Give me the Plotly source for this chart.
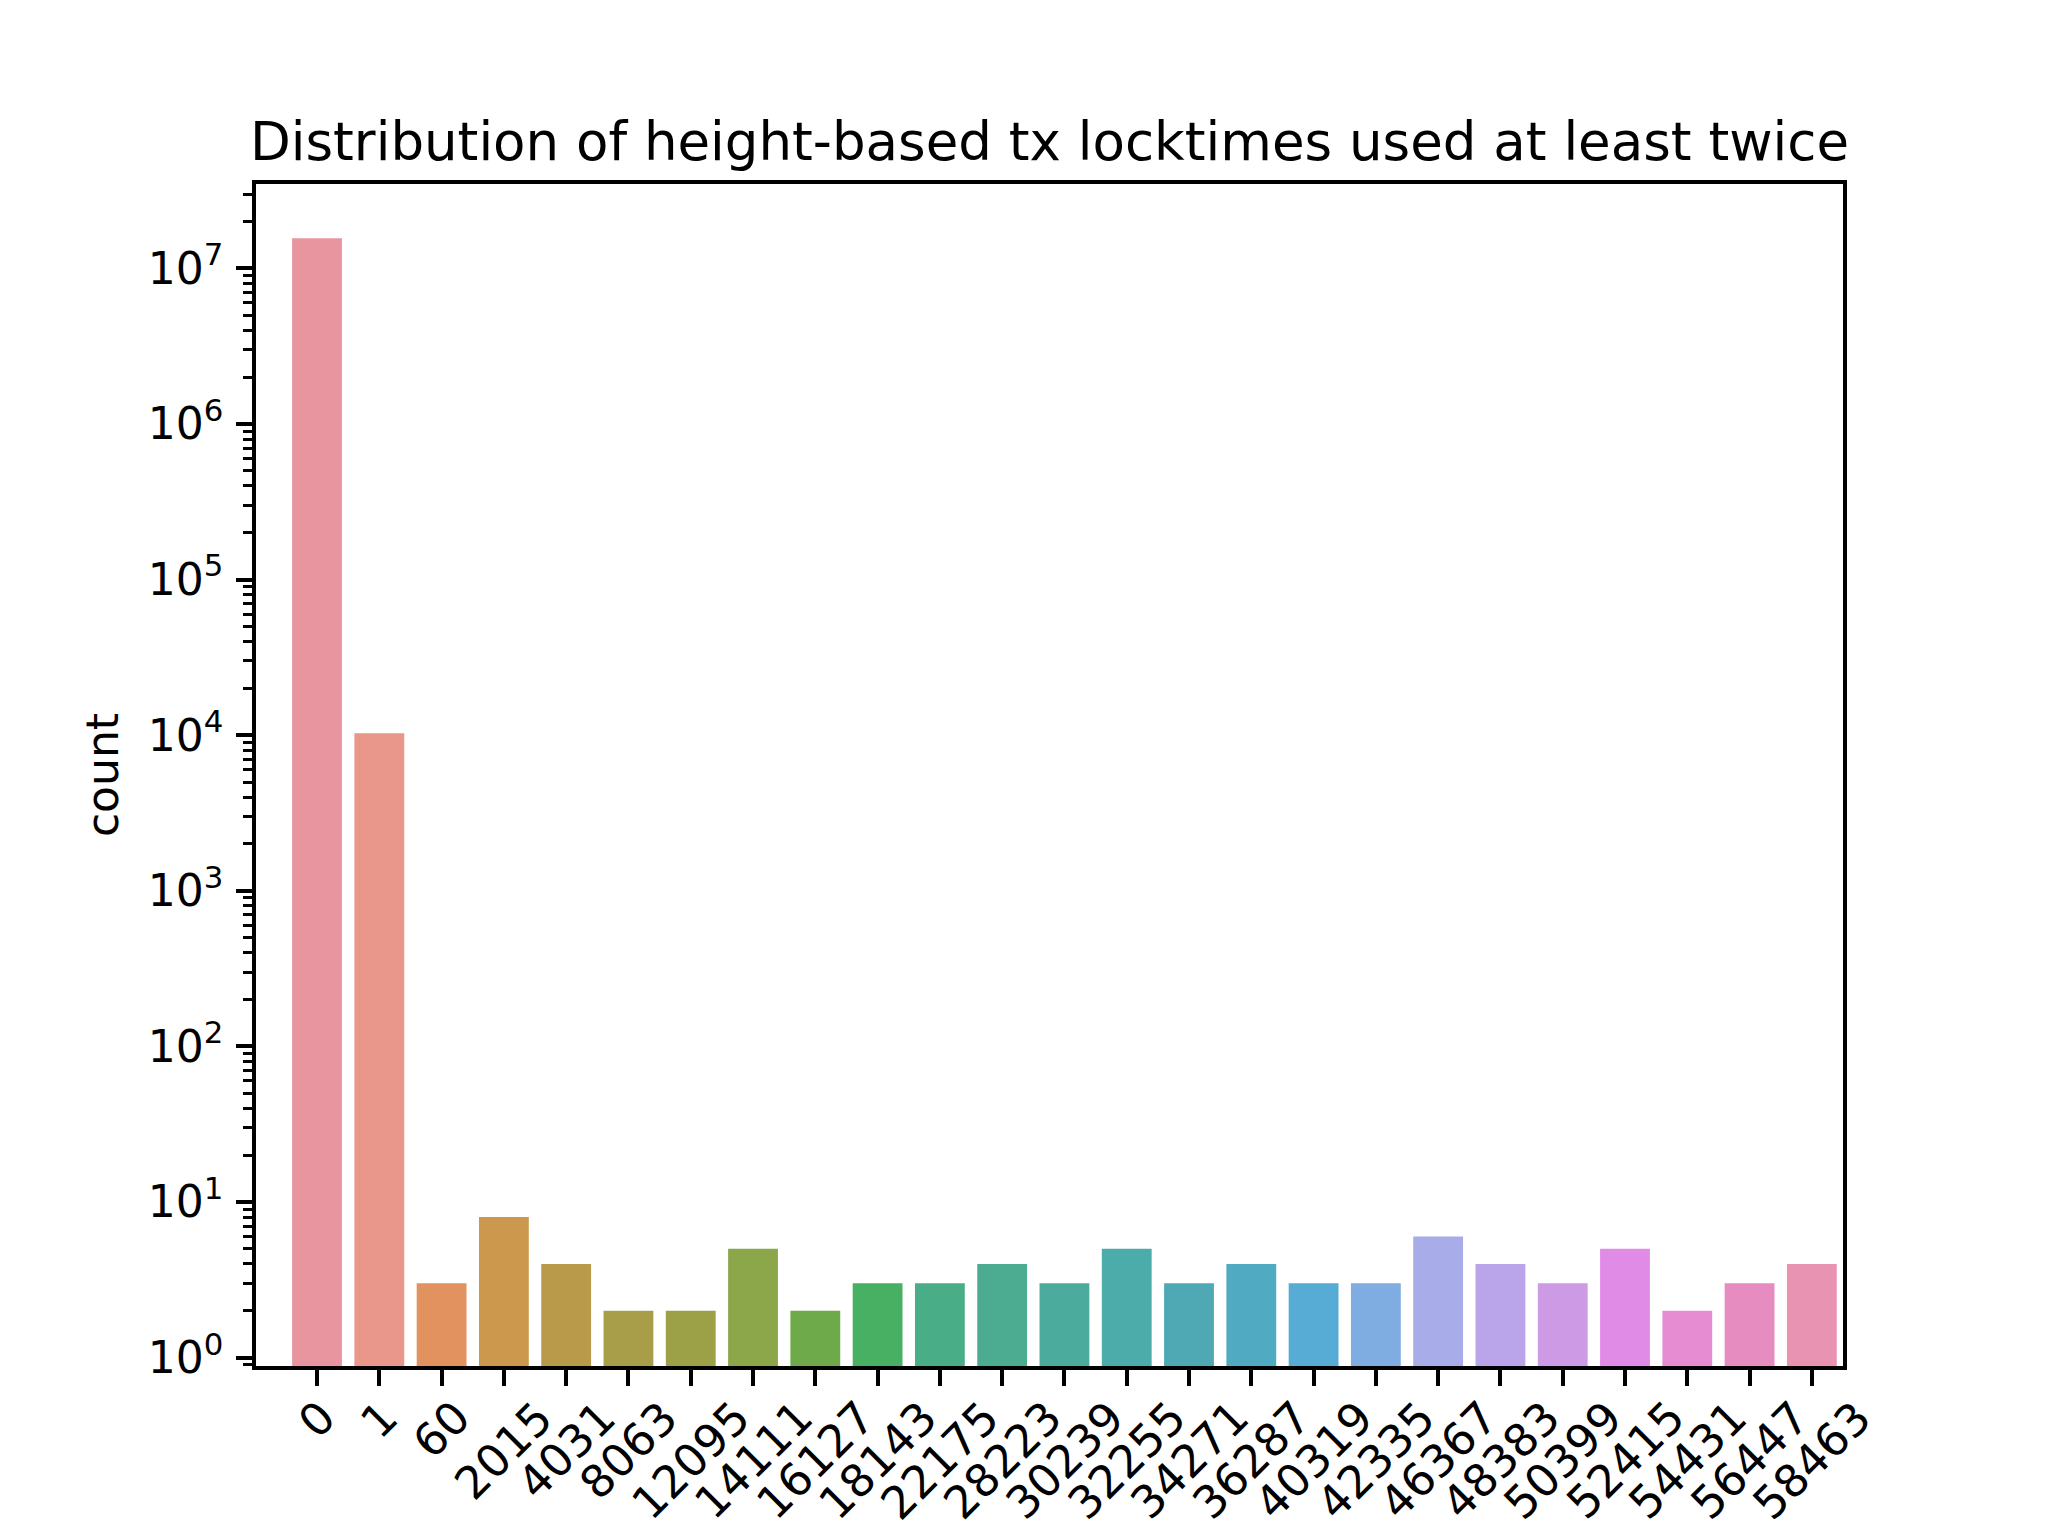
import plotly.graph_objects as go

# ---- data ----
categories = ["0", "1", "60", "2015", "4031", "8063", "12095", "14111", "16127",
              "18143", "22175", "28223", "30239", "32255", "34271", "36287",
              "40319", "42335", "46367", "48383", "50399", "52415", "54431",
              "56447", "58463"]
counts = [15600000, 10300, 3, 8, 4, 2, 2, 5, 2,
          3, 3, 4, 3, 5, 3, 4,
          3, 3, 6, 4, 3, 5, 2,
          3, 4]
bar_colors = ["#E8959F", "#E8978A", "#E1925F", "#CB984D", "#B89A4A", "#A89E49",
              "#9CA148", "#8CA74A", "#6EAA4A", "#48B062", "#49AE87", "#4BAC92",
              "#4BAC9E", "#4CACA9", "#4EA9B4", "#50ABC2", "#56ACD4", "#7FADE2",
              "#A8ADEA", "#BAA4EA", "#CD9BE6", "#E08BE6", "#E68CD2", "#E68CC0",
              "#E893B2"]
y_decades = list(range(0, 8))
y_ticktext = ["10<sup>%d</sup>" % d for d in y_decades]
title_text = "Distribution of height-based tx locktimes used at least twice"
y_label = "count"

FONT = "DejaVu Sans"
OFF = 8  # page body margin in the browser
W, H = 2048 - OFF, 1536 - OFF
L, R, T, B = 256 - OFF, 205, 184 - OFF, 170

fig = go.Figure()
fig.add_trace(go.Bar(
    x=list(range(len(categories))),
    y=counts,
    width=0.8,
    marker=dict(color=bar_colors, line=dict(width=0)),
    showlegend=False,
))

minor_vals = [k * 10 ** d for d in range(-1, 8) for k in range(2, 10)]

fig.update_layout(
    width=W, height=H,
    margin=dict(l=L, r=R, t=T, b=B, pad=0),
    paper_bgcolor="white", plot_bgcolor="white",
    font=dict(family=FONT, size=44, color="black"),
    title=dict(text=title_text, x=(L + (W - L - R) / 2) / W, xanchor="center",
               xref="container", y=1 - (141 - OFF) / H, yanchor="middle",
               font=dict(family=FONT, size=53, color="black")),
    bargap=0.2,
)

fig.update_xaxes(
    range=[-0.98, len(categories) - 0.5],
    tickmode="array",
    tickvals=list(range(len(categories))),
    showticklabels=False,
    ticks="outside", ticklen=16, tickwidth=3.5, tickcolor="black",
    showline=True, linecolor="black", linewidth=3.5, mirror=True,
    showgrid=False, zeroline=False,
)

fig.update_yaxes(
    type="log",
    range=[-0.054, 7.542],
    tickmode="array",
    tickvals=[10 ** d for d in y_decades],
    ticktext=y_ticktext,
    ticks="outside", ticklen=16, tickwidth=3.5, tickcolor="black",
    ticklabelstandoff=4,
    minor=dict(tickmode="array", tickvals=minor_vals, ticks="outside",
               ticklen=9, tickwidth=2.6, tickcolor="black", showgrid=False),
    showline=True, linecolor="black", linewidth=3.5, mirror=True,
    showgrid=False, zeroline=False,
    title=dict(text=y_label, standoff=16, font=dict(family=FONT, size=44)),
    tickfont=dict(family=FONT, size=44),
)

# rotated x tick labels (matplotlib-style, centered under each tick)
for i, lab in enumerate(categories):
    fig.add_annotation(
        x=i, xref="x", y=0, yref="paper",
        text=lab, showarrow=False, textangle=-45,
        xanchor="center", yanchor="top", yshift=-22,
        font=dict(family=FONT, size=45, color="black"),
    )

fig.write_html("out.html")
